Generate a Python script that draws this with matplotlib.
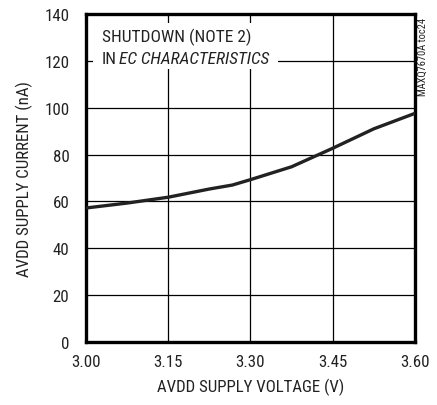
import matplotlib
matplotlib.use("Agg")
import matplotlib.pyplot as plt
from matplotlib.patches import Rectangle
from matplotlib import font_manager
from matplotlib.font_manager import FontProperties

FONT = 'Roboto Condensed'
plt.rcParams['font.family'] = [FONT, 'Archivo Narrow', 'DejaVu Sans']

# choose a family that really has an italic face for the italic words
try:
    f_it = font_manager.findfont(FontProperties(family=FONT, style='italic'), fallback_to_default=False)
    ITALIC_FAMILY = FONT if 'italic' in f_it.lower() else 'Archivo Narrow'
except Exception:
    ITALIC_FAMILY = 'Archivo Narrow'

voltage = [3.00, 3.075, 3.15, 3.225, 3.267, 3.30, 3.375, 3.45, 3.525, 3.60]
current = [57.2, 59.3, 61.8, 65.3, 67.0, 69.3, 74.8, 82.7, 91.0, 97.6]
xticks = [3.00, 3.15, 3.30, 3.45, 3.60]
xticklabels = ["3.00", "3.15", "3.30", "3.45", "3.60"]
yticks = [0, 20, 40, 60, 80, 100, 120, 140]

TXT = '#222222'
FS = 12.2
fig = plt.figure(figsize=(4.37, 4.06), dpi=100)
ax = fig.add_axes([86/437, 63/406, 329/437, 328/406])
ax.set_xlim(3.0, 3.6)
ax.set_ylim(0, 140)
ax.set_xticks(xticks)
ax.set_xticklabels(xticklabels)
ax.set_yticks(yticks)
ax.grid(True, color='black', linewidth=0.9)
ax.tick_params(axis='both', length=0, labelsize=FS, labelcolor=TXT)
ax.tick_params(axis='y', pad=12)
ax.tick_params(axis='x', pad=9)
for s in ax.spines.values():
    s.set_linewidth(2.4)
ax.plot(voltage, current, color='#222222', linewidth=2.4, solid_capstyle='butt', zorder=3)

# white box behind the note (covers grid lines)
ax.add_patch(Rectangle((3.0128, 116.5), 0.337, 19.6, facecolor='white', edgecolor='none', zorder=4))
ax.text(3.029, 128.5, "SHUTDOWN (NOTE 2)", va='baseline', ha='left', fontsize=12.5, color=TXT, zorder=6)
ax.text(3.029, 119.2, "IN", va='baseline', ha='left', fontsize=12.5, color=TXT, zorder=6)
ax.text(3.060, 119.2, "EC CHARACTERISTICS", va='baseline', ha='left', fontsize=12.5,
        style='italic', family=[ITALIC_FAMILY, 'DejaVu Sans'], color=TXT, zorder=6)

ax.set_xlabel("AVDD SUPPLY VOLTAGE (V)", fontsize=FS, labelpad=6, color=TXT)
ax.set_ylabel("AVDD SUPPLY CURRENT (nA)", fontsize=FS, labelpad=8, color=TXT)
fig.text(423/437, 1 - 57/406, "MAXQ7670A toc24", rotation=90, ha='center', va='center',
         fontsize=7.5, color=TXT)

fig.savefig("out.png", dpi=100)
